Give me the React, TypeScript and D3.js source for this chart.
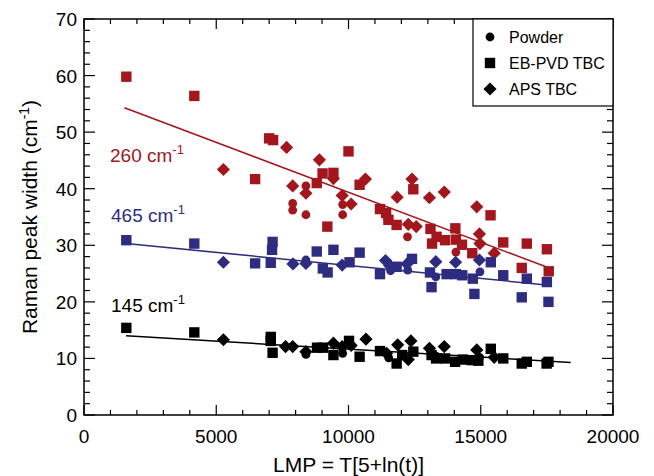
import React from 'react';
import * as d3 from 'd3';

// ---------- data ----------
const xTickValues = [0, 5000, 10000, 15000, 20000];
const yTickValues = [0, 10, 20, 30, 40, 50, 60, 70];
const legendLabels = ['Powder', 'EB-PVD TBC', 'APS TBC'];
const bandLabels = ['260', '465', '145'];

// 260 cm-1 (red)
const red_ebpvd = [
  [1600, 59.8], [4170, 56.4], [7000, 48.9], [7150, 48.6], [6470, 41.7], [10000, 46.6], [8800, 41], [9020, 42.7],
  [9430, 42.8], [10420, 40.7], [9200, 33.3], [11190, 36.4], [11420, 35.7], [11820, 33.6], [12450, 39.9], [15370, 35.3],
  [11510, 34.5], [13100, 32.9], [13160, 30.3], [13330, 31.5], [13650, 30.9], [14040, 33], [14060, 31], [14290, 30.1],
  [14680, 28.6], [15850, 30.5], [16740, 30.3], [17500, 29.3], [16550, 26], [17570, 25.4],
];
const red_aps = [
  [5270, 43.4], [7660, 47.3], [8900, 45.1], [7890, 40.5], [8390, 39.2], [9430, 41.8], [9760, 38.8], [10100, 37.3],
  [10640, 41.7], [11840, 38.5], [12400, 41.7], [13060, 38.4], [13620, 39.4], [14850, 36.8], [12260, 33.7], [12560, 33.3],
  [14950, 32], [14970, 30.3], [15510, 28.6],
];
const red_powder = [
  [8390, 40.5], [7890, 37.4], [7890, 36.2], [8390, 35.4], [9780, 37.2], [9780, 35.4], [11440, 35.4], [11480, 34.6],
  [12230, 31.5], [14060, 28.8],
];
const red_fit = [[1530, 54.3], [17470, 26.2]];

// 465 cm-1 (blue)
const blue_ebpvd = [
  [1600, 30.9], [4170, 30.3], [6470, 26.8], [7060, 26.9], [7110, 29.2], [7130, 30.6], [8800, 28.9], [9030, 25.9],
  [9210, 25.2], [9430, 29.2], [10040, 27], [10420, 28.7], [11190, 24.9], [11820, 26.2], [12400, 27.6], [13080, 25.2],
  [13140, 22.6], [13710, 24.9], [14060, 24.9], [14300, 24.7], [14700, 24.1], [14760, 21.4], [15380, 27], [15850, 24.7],
  [16550, 20.8], [16740, 24.1], [17500, 23.5], [17560, 20],
];
const blue_aps = [
  [5270, 27], [7900, 26.7], [8390, 26.8], [9760, 26.5], [11400, 27.3], [11560, 26.4], [12210, 26.7], [13300, 27.1],
  [14050, 27], [14950, 27.4],
];
const blue_powder = [[8390, 27.4], [11590, 25.5], [12240, 25.6], [13300, 24.4], [14970, 25.3]];
const blue_fit = [[1590, 30.3], [17470, 23.0]];

// 145 cm-1 (black)
const black_ebpvd = [
  [1600, 15.4], [4170, 14.6], [7060, 13.8], [7060, 13.1], [7130, 11], [8810, 11.9], [9040, 11.9], [9430, 10.6],
  [10020, 13.1], [10420, 10.3], [11190, 11.3], [11820, 9.1], [12030, 10.6], [12450, 11.2], [13140, 10.6], [13310, 10],
  [13650, 10], [14030, 9.4], [14320, 9.8], [14660, 9.7], [14910, 9.6], [15380, 11.7], [15850, 10], [16550, 9.1],
  [16740, 9.4], [17490, 9.1], [17560, 9.4],
];
const black_aps = [
  [5270, 13.3], [7620, 12.1], [7890, 12.1], [8390, 11.2], [9430, 12.7], [9760, 12.1], [10100, 12.3], [10660, 13.4],
  [11440, 10.9], [11860, 12.4], [12260, 9.8], [12360, 13.1], [13060, 11.8], [13620, 12.1], [14850, 11.5], [15510, 10.2],
];
const black_powder = [[8390, 10.7], [9780, 10.9], [11520, 10.1], [13310, 10.4], [14950, 10.2]];
const black_fit = [[1590, 14.0], [18400, 9.3]];

// ---------- layout ----------
const W = 654, H = 476;
const L = 84, R = 613, T = 19, B = 415;
const RED = '#A3161E', BLUE = '#2E2C80', BLACK = '#000000';
const FONT = 'Arial, "Liberation Sans", Helvetica, sans-serif';

const x = d3.scaleLinear().domain([0, 20000]).range([L, R]);
const y = d3.scaleLinear().domain([0, 70]).range([B, T]);

const sq = (cx: number, cy: number, s = 5.2) => `M${cx - s},${cy - s}h${2 * s}v${2 * s}h${-2 * s}Z`;
const dm = (cx: number, cy: number, s = 6.6) => `M${cx},${cy - s}L${cx + s},${cy}L${cx},${cy + s}L${cx - s},${cy}Z`;

function Series({ ebpvd, aps, powder, fit, color }: any) {
  const line = d3.line<number[]>().x(d => x(d[0])).y(d => y(d[1]));
  return (
    <g fill={color}>
      <path d={line(fit) || ''} stroke={color} strokeWidth={1.5} fill="none" />
      {powder.map((d: number[], i: number) => <circle key={'p' + i} cx={x(d[0])} cy={y(d[1])} r={4.4} />)}
      {ebpvd.map((d: number[], i: number) => <path key={'s' + i} d={sq(x(d[0]), y(d[1]))} />)}
      {aps.map((d: number[], i: number) => <path key={'d' + i} d={dm(x(d[0]), y(d[1]))} />)}
    </g>
  );
}

function Label({ px, py, band, color }: any) {
  return (
    <text x={px} y={py} fill={color} fontSize={19} fontFamily={FONT}>
      {band} cm<tspan fontSize={13} dy={-8}>-1</tspan>
    </text>
  );
}

export default function App() {
  const xMinor = d3.range(0, 20001, 1000);
  const yMinor = d3.range(0, 70.01, 2);
  return (
    <svg width={W} height={H} style={{ position: 'absolute', left: 0, top: 0, background: '#fff' }}>
      <rect x={0} y={0} width={W} height={H} fill="#fff" />
      {/* ticks */}
      <g stroke="#000" strokeWidth={1.2}>
        {xMinor.map(v => {
          const major = v % 5000 === 0;
          const len = major ? 10 : 5;
          return (
            <g key={'xt' + v}>
              <line x1={x(v)} x2={x(v)} y1={B} y2={B - len} />
              <line x1={x(v)} x2={x(v)} y1={T} y2={T + len} />
            </g>
          );
        })}
        {yMinor.map(v => {
          const major = Math.abs(v % 10) < 1e-6;
          const len = major ? 11 : 6;
          return (
            <g key={'yt' + v}>
              <line x1={L} x2={L + len} y1={y(v)} y2={y(v)} />
              <line x1={R} x2={R - len} y1={y(v)} y2={y(v)} />
            </g>
          );
        })}
      </g>
      <rect x={L} y={T} width={R - L} height={B - T} fill="none" stroke="#000" strokeWidth={1.5} />

      {/* tick labels */}
      <g fontFamily={FONT} fontSize={19} fill="#000">
        {xTickValues.map(v => (
          <text key={'xl' + v} x={x(v)} y={443} textAnchor="middle">{v}</text>
        ))}
        {yTickValues.map(v => (
          <text key={'yl' + v} x={L - 7} y={y(v) + 7} textAnchor="end">{v}</text>
        ))}
      </g>

      {/* axis titles */}
      <text x={(L + R) / 2} y={472} textAnchor="middle" fontFamily={FONT} fontSize={21}>LMP = T[5+ln(t)]</text>
      <text transform={`translate(37,${(T + B) / 2}) rotate(-90)`} textAnchor="middle" fontFamily={FONT} fontSize={21}>
        Raman peak width (cm<tspan fontSize={14} dy={-8}>-1</tspan><tspan dy={8}>)</tspan>
      </text>

      {/* series */}
      <Series ebpvd={red_ebpvd} aps={red_aps} powder={red_powder} fit={red_fit} color={RED} />
      <Series ebpvd={blue_ebpvd} aps={blue_aps} powder={blue_powder} fit={blue_fit} color={BLUE} />
      <Series ebpvd={black_ebpvd} aps={black_aps} powder={black_powder} fit={black_fit} color={BLACK} />

      <Label px={110} py={162} band={bandLabels[0]} color={RED} />
      <Label px={111} py={222} band={bandLabels[1]} color={BLUE} />
      <Label px={111} py={312} band={bandLabels[2]} color={BLACK} />

      {/* legend */}
      <g>
        <rect x={473} y={T} width={R - 473} height={87} fill="#fff" stroke="#000" strokeWidth={1.2} />
        <circle cx={490} cy={37} r={4.4} fill="#000" />
        <path d={sq(490, 63)} fill="#000" />
        <path d={dm(490, 89)} fill="#000" />
        {legendLabels.map((t, i) => (
          <text key={t} x={509} y={43 + i * 26} fontFamily={FONT} fontSize={16}>{t}</text>
        ))}
      </g>
    </svg>
  );
}
